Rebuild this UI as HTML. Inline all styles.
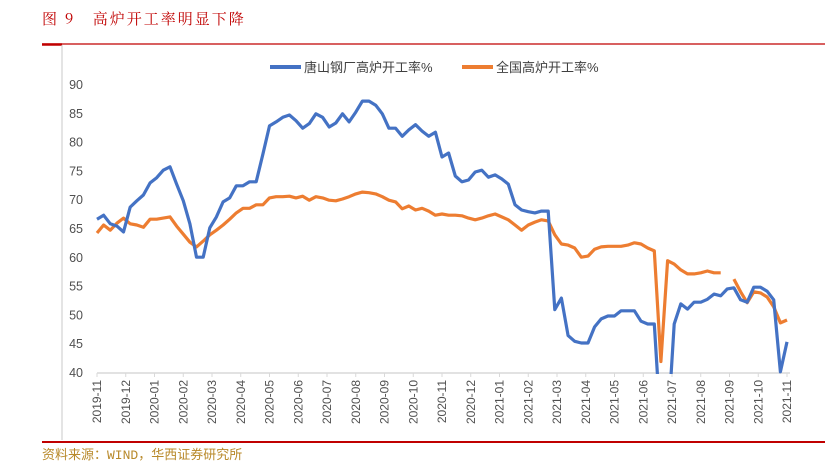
<!DOCTYPE html>
<html><head><meta charset="utf-8"><style>
body{margin:0;background:#fff;width:825px;height:474px;overflow:hidden;position:relative;font-family:"Liberation Sans","Noto Sans CJK SC",sans-serif}
.title{position:absolute;left:42px;top:8px;font-size:15px;color:#c00000;letter-spacing:2px;font-family:"Noto Serif CJK SC","Liberation Serif",serif}
.src{position:absolute;left:42px;top:444px;font-size:13px;color:#b8892a;font-family:"Liberation Mono","Noto Sans CJK SC",monospace}
</style></head><body>
<div class="title">图 9&nbsp;&nbsp;&nbsp;高炉开工率明显下降</div>
<div class="src">资料来源：WIND，华西证券研究所</div>
<svg id="c" width="825" height="474" style="position:absolute;left:0;top:0">
<defs><clipPath id="pc"><rect x="90" y="78" width="710" height="296"/></clipPath></defs>
<line x1="42" y1="44" x2="825" y2="44" stroke="#c00000" stroke-width="1.2"/>
<line x1="42" y1="44.5" x2="62" y2="44.5" stroke="#c00000" stroke-width="2.5"/>
<line x1="62" y1="45" x2="62" y2="440" stroke="#c8c8c8" stroke-width="1"/>
<line x1="42" y1="442" x2="825" y2="442" stroke="#c00000" stroke-width="2"/>
<g id="legend">
<line x1="270" y1="67" x2="301" y2="67" stroke="#4472c4" stroke-width="4"/>
<text x="304" y="72" font-size="13" fill="#404040">唐山钢厂高炉开工率%</text>
<line x1="462" y1="67" x2="493" y2="67" stroke="#ed7d31" stroke-width="4"/>
<text x="496" y="72" font-size="13" fill="#404040">全国高炉开工率%</text>
</g>
<g id="axes"></g>
<g id="series" clip-path="url(#pc)"></g>
</svg>
<script>
const yTicks=[40,45,50,55,60,65,70,75,80,85,90];
const monthLabels=["2019-11","2019-12","2020-01","2020-02","2020-03","2020-04","2020-05","2020-06","2020-07","2020-08","2020-09","2020-10","2020-11","2020-12","2021-01","2021-02","2021-03","2021-04","2021-05","2021-06","2021-07","2021-08","2021-09","2021-10","2021-11"];
const tangshan=[66.7,67.4,65.9,65.5,64.5,68.8,69.9,70.9,73.0,73.9,75.2,75.8,72.8,69.9,65.9,60.1,60.1,65.2,67.1,69.7,70.4,72.5,72.5,73.2,73.2,78,82.9,83.6,84.4,84.8,83.8,82.5,83.3,85,84.4,82.7,83.4,85,83.6,85.3,87.2,87.2,86.5,85,82.5,82.5,81.1,82.2,83.1,82.0,81.1,81.8,77.5,78.2,74.2,73.2,73.5,74.9,75.2,74,74.4,73.7,72.8,69.2,68.3,68.0,67.8,68.1,68.1,51,53,46.5,45.5,45.2,45.2,48,49.4,49.9,49.9,50.8,50.8,50.8,49.0,48.5,48.5,30,30,48.5,52,51.1,52.3,52.3,52.8,53.7,53.4,54.6,54.8,52.7,52.3,54.9,54.9,54.2,52.7,40.2,45.4];
const national=[64.3,65.7,64.8,66.0,66.9,65.9,65.7,65.3,66.7,66.7,66.9,67.1,65.5,64.1,62.7,61.9,62.9,64.0,64.8,65.7,66.7,67.8,68.6,68.6,69.2,69.2,70.4,70.6,70.6,70.7,70.4,70.7,70.0,70.6,70.4,70.0,69.9,70.2,70.6,71.1,71.4,71.3,71.1,70.6,70.0,69.7,68.5,69.0,68.3,68.6,68.1,67.4,67.6,67.4,67.4,67.3,66.9,66.6,66.9,67.3,67.6,67.1,66.6,65.7,64.8,65.7,66.2,66.6,66.4,64.0,62.4,62.2,61.7,60.1,60.3,61.5,61.9,62.0,62.0,62.0,62.2,62.6,62.4,61.7,61.2,42,59.5,58.9,57.9,57.2,57.2,57.4,57.7,57.4,57.4,null,56.3,54.1,52.2,54.1,53.9,53.2,51.5,48.7,49.2];
const X0=97,X1=787,Y0=373,Y1=85;
const xm=m=>X0+(X1-X0)*m/24;
const xw=i=>X0+(X1-X0)*i/104;
const yv=v=>Y0-(v-40)*(Y0-Y1)/50;
const NS='http://www.w3.org/2000/svg';
const ax=document.getElementById('axes'),sg=document.getElementById('series');
function mk(t,a,p){const e=document.createElementNS(NS,t);for(const k in a)e.setAttribute(k,a[k]);p.appendChild(e);return e;}
yTicks.forEach(v=>{const t=mk('text',{x:83,y:yv(v)+4,'text-anchor':'end','font-size':12.5,fill:'#505050'},ax);t.textContent=v;

});
const xl=mk('line',{x1:X0,y1:Y0,x2:X1+3,y2:Y0,stroke:'#d9d9d9','stroke-width':1.5},ax);


monthLabels.forEach((l,m)=>{const x=xm(m);mk('line',{x1:x,y1:Y0,x2:x,y2:Y0+4,stroke:'#d9d9d9'},ax);
const t=mk('text',{x:0,y:0,transform:`translate(${x+4},${Y0+7}) rotate(-90)`,'text-anchor':'end','font-size':12,fill:'#505050'},ax);t.textContent=l;

});
function line(data,color,name){let d='',pen=false;data.forEach((v,i)=>{if(v==null){pen=false;return;}d+=(pen?'L':'M')+xw(i).toFixed(1)+','+yv(v).toFixed(1);pen=true;});
const p=mk('path',{d:d,fill:'none',stroke:color,'stroke-width':3.2,'stroke-linejoin':'round'},sg);

}
line(national,'#ed7d31','national-line');
line(tangshan,'#4472c4','tangshan-line');
</script>
</body></html>
